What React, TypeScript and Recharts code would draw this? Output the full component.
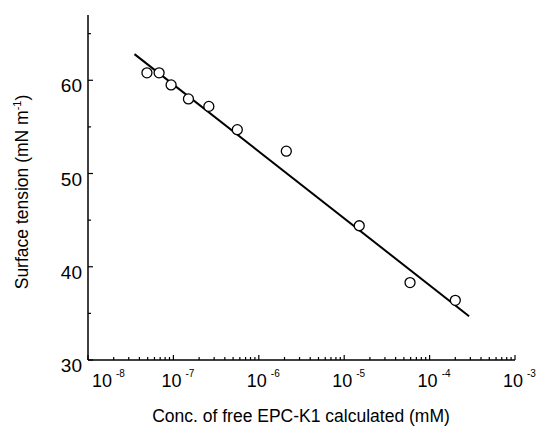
import { ScatterChart, Scatter, XAxis, YAxis } from 'recharts';

// measured points: free EPC-K1 concentration (mM) vs surface tension (mN/m)
const concentration = [4.9e-8, 6.8e-8, 9.4e-8, 1.5e-7, 2.6e-7, 5.6e-7, 2.1e-6, 1.5e-5, 5.9e-5, 2.0e-4];
const tension = [60.8, 60.8, 59.5, 58.0, 57.2, 54.7, 52.4, 44.4, 38.3, 36.4];

// fitted straight line (end points)
const fitConc = [3.5e-8, 2.9e-4];
const fitTension = [62.8, 34.7];

const decades = [1e-8, 1e-7, 1e-6, 1e-5, 1e-4, 1e-3];
const exponents = [-8, -7, -6, -5, -4, -3];
const yTicks = [30, 35, 40, 45, 50, 55, 60, 65];
const yLabels = [30, 40, 50, 60];

const FONT = '"Liberation Sans", Arial, Helvetica, sans-serif';

const points = concentration.map((c, i) => ({ x: c, y: tension[i] }));
const fit = fitConc.map((c, i) => ({ x: c, y: fitTension[i] }));

// major + minor ticks for the log axis
const xTicks: number[] = [];
decades.forEach((d, i) => {
  xTicks.push(d);
  if (i < decades.length - 1) {
    for (let m = 2; m <= 9; m++) xTicks.push(m * d);
  }
});

interface TickProps {
  x?: number;
  y?: number;
  payload?: { value: number };
}

const XTick = ({ x, y, payload }: TickProps) => {
  if (x == null || y == null || !payload) return null;
  const idx = decades.findIndex((d) => Math.abs(d - payload.value) / d < 1e-6);
  const major = idx >= 0;
  return (
    <g>
      <line x1={x} x2={x} y1={y} y2={y - (major ? 5 : 3)} stroke="#000" strokeWidth={1.2} />
      {major && (
        <text x={x - 12 + (idx === 0 ? 16 : 0)} y={y + 27} fontSize={18} fontFamily={FONT} fill="#000">
          <tspan>10</tspan>
          <tspan dx={4} dy={-10} fontSize={10}>{exponents[idx]}</tspan>
        </text>
      )}
    </g>
  );
};

const YTick = ({ x, y, payload }: TickProps) => {
  if (x == null || y == null || !payload) return null;
  const labelled = yLabels.includes(payload.value);
  return (
    <g>
      <line x1={x} x2={x + (labelled ? 5 : 3)} y1={y} y2={y} stroke="#000" strokeWidth={1.2} />
      {labelled && (
        <text x={x - 6} y={y + 12} textAnchor="end" fontSize={19} fontFamily={FONT} fill="#000">
          {payload.value}
        </text>
      )}
    </g>
  );
};

const OpenCircle = ({ cx, cy }: { cx?: number; cy?: number }) => (
  <circle cx={cx} cy={cy} r={5} fill="#fff" stroke="#000" strokeWidth={1.3} />
);

export default function App() {
  return (
    <div style={{ position: 'absolute', left: 0, top: 0, width: 539, height: 431, background: '#fff' }}>
      <ScatterChart width={539} height={431} margin={{ top: 15, right: 24, left: 0, bottom: 0 }}>
        <XAxis
          dataKey="x"
          type="number"
          scale="log"
          domain={[1e-8, 1e-3]}
          ticks={xTicks}
          interval={0}
          allowDataOverflow
          tickSize={0}
          tickMargin={0}
          tickLine={false}
          tick={<XTick />}
          height={71}
          axisLine={{ stroke: '#000', strokeWidth: 1.5 }}
        />
        <YAxis
          dataKey="y"
          type="number"
          domain={[30, 67]}
          ticks={yTicks}
          interval={0}
          allowDataOverflow
          tickSize={0}
          tickMargin={0}
          tickLine={false}
          tick={<YTick />}
          width={88}
          axisLine={{ stroke: '#000', strokeWidth: 1.5 }}
        />
        <Scatter
          data={fit}
          line={{ stroke: '#000', strokeWidth: 2 }}
          shape={() => <g />}
          isAnimationActive={false}
        />
        <Scatter data={points} shape={<OpenCircle />} isAnimationActive={false} />
      </ScatterChart>
      <div
        style={{
          position: 'absolute',
          left: 0,
          width: 602,
          top: 405,
          textAlign: 'center',
          fontFamily: FONT,
          fontSize: 17.5,
          lineHeight: '22px',
          color: '#000',
        }}
      >
        Conc. of free EPC-K1 calculated (mM)
      </div>
      <div
        style={{
          position: 'absolute',
          left: 22 - 130,
          top: 192 - 11,
          width: 260,
          height: 22,
          lineHeight: '22px',
          textAlign: 'center',
          transform: 'rotate(-90deg)',
          fontFamily: FONT,
          fontSize: 17.5,
          color: '#000',
          whiteSpace: 'nowrap',
        }}
      >
        Surface tension (mN m<sup style={{ fontSize: 11, verticalAlign: 'super', lineHeight: 0 }}>-1</sup>)
      </div>
    </div>
  );
}
